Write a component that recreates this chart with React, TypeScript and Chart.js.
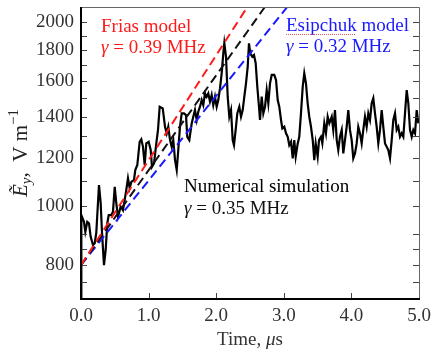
import React, { useEffect, useRef } from 'react';
import { Chart, registerables } from 'chart.js';

Chart.register(...registerables);

// Numerical simulation trace (time in µs, field in V/m)
const simTime = [
  0.0, 0.005, 0.044, 0.064, 0.093, 0.118, 0.143, 0.178, 0.203, 0.226,
  0.266, 0.291, 0.311, 0.34, 0.365, 0.389, 0.41, 0.448, 0.473, 0.499,
  0.522, 0.547, 0.587, 0.621, 0.646, 0.67, 0.695, 0.72, 0.744, 0.784,
  0.803, 0.833, 0.868, 0.892, 0.917, 0.942, 0.966, 1.001, 1.031, 1.05,
  1.08, 1.114, 1.139, 1.164, 1.209, 1.243, 1.268, 1.291, 1.317, 1.342,
  1.365, 1.391, 1.416, 1.439, 1.464, 1.49, 1.524, 1.553, 1.572, 1.602,
  1.638, 1.661, 1.686, 1.712, 1.735, 1.76, 1.786, 1.809, 1.834, 1.859,
  1.883, 1.908, 1.933, 1.957, 1.982, 2.007, 2.031, 2.056, 2.081, 2.105,
  2.12, 2.145, 2.17, 2.194, 2.219, 2.244, 2.263, 2.288, 2.312, 2.342,
  2.367, 2.392, 2.416, 2.441, 2.466, 2.485, 2.504, 2.534, 2.559, 2.584,
  2.608, 2.633, 2.648, 2.673, 2.697, 2.722, 2.747, 2.771, 2.796, 2.821,
  2.859, 2.885, 2.91, 2.933, 2.959, 2.978, 3.007, 3.033, 3.058, 3.081,
  3.107, 3.132, 3.155, 3.176, 3.206, 3.229, 3.254, 3.28, 3.303, 3.328,
  3.353, 3.377, 3.402, 3.428, 3.451, 3.472, 3.501, 3.521, 3.55, 3.57,
  3.599, 3.624, 3.649, 3.673, 3.709, 3.732, 3.757, 3.783, 3.806, 3.831,
  3.857, 3.88, 3.905, 3.93, 3.954, 3.979, 4.004, 4.028, 4.053, 4.078,
  4.102, 4.127, 4.152, 4.176, 4.201, 4.226, 4.25, 4.275, 4.3, 4.324,
  4.349, 4.374, 4.398, 4.423, 4.448, 4.472, 4.497, 4.522, 4.546, 4.571,
  4.596, 4.62, 4.645, 4.67, 4.694, 4.719, 4.744, 4.768, 4.793, 4.818,
  4.842, 4.867, 4.892, 4.916, 4.941, 4.966, 4.99,
];
const simField = [
  705, 966, 942, 907, 942, 937, 890, 863, 869, 903,
  1082, 1011, 903, 800, 847, 937, 966, 966, 978, 1075,
  1011, 960, 997, 984, 1022, 1062, 1110, 1070, 1095, 1103,
  1145, 1167, 1274, 1286, 1250, 1167, 1266, 1274, 1235, 1159,
  1174, 1266, 1332, 1454, 1445, 1348, 1315, 1348, 1282, 1250,
  1282, 1189, 1145, 1235, 1348, 1418, 1418, 1409, 1298, 1282,
  1366, 1400, 1436, 1383, 1427, 1454, 1491, 1463, 1529, 1510,
  1529, 1482, 1520, 1463, 1510, 1454, 1491, 1558, 1649, 1778,
  1847, 1756, 1510, 1400, 1436, 1282, 1258, 1332, 1418, 1454,
  1400, 1436, 1510, 1588, 1691, 1847, 1778, 1756, 1767, 1713,
  1568, 1454, 1383, 1510, 1418, 1454, 1548, 1473, 1588, 1639,
  1639, 1608, 1491, 1454, 1383, 1340, 1348, 1315, 1298, 1258,
  1274, 1197, 1282, 1204, 1266, 1298, 1418, 1568, 1649, 1588,
  1473, 1400, 1348, 1282, 1189, 1266, 1204, 1282, 1298, 1266,
  1366, 1315, 1400, 1366, 1400, 1332, 1436, 1282, 1235, 1298,
  1332, 1219, 1282, 1348, 1436, 1332, 1282, 1197, 1219, 1266,
  1348, 1315, 1266, 1332, 1400, 1348, 1418, 1383, 1473, 1501,
  1418, 1348, 1266, 1332, 1436, 1348, 1266, 1250, 1235, 1197,
  1282, 1383, 1418, 1332, 1348, 1298, 1315, 1298, 1418, 1548,
  1473, 1332, 1298, 1332, 1315, 1436, 1366,
];

// Model growth lines (straight on the log axis), endpoints
const friasTime = [0, 2.46];
const friasField = [800, 2118];
const simFitTime = [0, 2.72];
const simFitField = [800, 2118];
const esipTime = [0, 3.05];
const esipField = [800, 2118];

const xTickValues = [0, 1, 2, 3, 4, 5];
const yTickValues = [750, 800, 850, 900, 1000, 1100, 1200, 1300, 1400, 1500, 1600, 1700, 1800, 1900, 2000];
const yLabelValues = [800, 1000, 1200, 1400, 1600, 1800, 2000];
const yMin = 704;
const yMax = 2118;

const SERIF = '"Liberation Serif", "Times New Roman", serif';

type Run = { t: string; size: number; italic?: boolean; dy?: number };

function drawRuns(ctx: CanvasRenderingContext2D, x: number, y: number, runs: Run[], color: string) {
  let cx = x;
  ctx.fillStyle = color;
  ctx.textBaseline = 'alphabetic';
  ctx.textAlign = 'left';
  for (const r of runs) {
    ctx.font = `${r.italic ? 'italic ' : ''}${r.size}px ${SERIF}`;
    ctx.fillText(r.t, cx, y + (r.dy || 0));
    cx += ctx.measureText(r.t).width;
  }
  return cx - x;
}

function runsWidth(ctx: CanvasRenderingContext2D, runs: Run[]) {
  let w = 0;
  for (const r of runs) {
    ctx.font = `${r.italic ? 'italic ' : ''}${r.size}px ${SERIF}`;
    w += ctx.measureText(r.t).width;
  }
  return w;
}

const decorPlugin = {
  id: 'decor',
  afterDraw(chart: any) {
    const { ctx, chartArea: a, scales } = chart;
    const xs = scales.x;
    const ys = scales.y;
    ctx.save();

    // inward tick marks
    ctx.strokeStyle = '#444';
    ctx.lineWidth = 1;
    ctx.beginPath();
    yTickValues.forEach((v) => {
      const py = Math.round(ys.getPixelForValue(v)) + 0.5;
      ctx.moveTo(a.left, py);
      ctx.lineTo(a.left + 6, py);
      ctx.moveTo(a.right, py);
      ctx.lineTo(a.right - 6, py);
    });
    xTickValues.forEach((v) => {
      const px = Math.round(xs.getPixelForValue(v)) + 0.5;
      ctx.moveTo(px, a.bottom);
      ctx.lineTo(px, a.bottom - 6);
    });
    ctx.stroke();

    // frame
    ctx.strokeStyle = '#666';
    ctx.lineWidth = 1;
    ctx.beginPath();
    ctx.moveTo(a.left, a.top + 0.5);
    ctx.lineTo(a.right + 0.5, a.top + 0.5);
    ctx.lineTo(a.right + 0.5, a.bottom);
    ctx.stroke();
    ctx.strokeStyle = '#000';
    ctx.lineWidth = 2;
    ctx.beginPath();
    ctx.moveTo(a.left, a.top);
    ctx.lineTo(a.left, a.bottom);
    ctx.lineTo(a.right + 1, a.bottom);
    ctx.stroke();

    // annotations
    const red = '#ff1a1a';
    const blue = '#1a1aff';
    drawRuns(ctx, 101, 32, [{ t: 'Frias model', size: 19 }], red);
    drawRuns(ctx, 101, 53, [{ t: 'γ', size: 19, italic: true }, { t: ' = 0.39 MHz', size: 19 }], red);
    drawRuns(ctx, 286, 31, [{ t: 'Esipchuk model', size: 19 }], blue);
    drawRuns(ctx, 286, 52, [{ t: 'γ', size: 19, italic: true }, { t: ' = 0.32 MHz', size: 19 }], blue);
    // spell-check squiggle under "Esipchuk"
    ctx.save();
    ctx.strokeStyle = 'rgba(230,60,60,0.85)';
    ctx.lineWidth = 1;
    ctx.setLineDash([1, 1]);
    ctx.beginPath();
    ctx.moveTo(286, 34.5);
    ctx.lineTo(356, 34.5);
    ctx.stroke();
    ctx.restore();
    drawRuns(ctx, 184, 192, [{ t: 'Numerical simulation', size: 19 }], '#000');
    drawRuns(ctx, 184, 214, [{ t: 'γ', size: 19, italic: true }, { t: ' = 0.35 MHz', size: 19 }], '#111');

    // x-axis title
    const xRuns: Run[] = [
      { t: 'Time, ', size: 19 },
      { t: 'μ', size: 19, italic: true },
      { t: 's', size: 19 },
    ];
    const xw = runsWidth(ctx, xRuns);
    drawRuns(ctx, (a.left + a.right) / 2 - xw / 2, 345, xRuns, '#333');

    // y-axis title (rotated)
    const yRuns: Run[] = [
      { t: 'Ẽ', size: 21, italic: true },
      { t: 'y', size: 15, italic: true, dy: 4 },
      { t: ',  V m', size: 21 },
      { t: '−1', size: 15, dy: -9 },
    ];
    const yw = runsWidth(ctx, yRuns);
    ctx.translate(27, (a.top + a.bottom) / 2 + yw / 2);
    ctx.rotate(-Math.PI / 2);
    drawRuns(ctx, 0, 0, yRuns, '#222');

    ctx.restore();
  },
};

export default function App() {
  const canvasRef = useRef<HTMLCanvasElement | null>(null);

  useEffect(() => {
    const canvas = canvasRef.current;
    if (!canvas) return;
    const toPts = (ts: number[], vs: number[]) => ts.map((t, i) => ({ x: t, y: vs[i] }));
    const chart = new Chart(canvas, {
      type: 'line',
      data: {
        datasets: [
          {
            data: toPts(friasTime, friasField),
            borderColor: '#ff1a1a',
            borderWidth: 2,
            borderDash: [9, 5],
            pointRadius: 0,
            order: 0,
          },
          {
            data: toPts(simFitTime, simFitField),
            borderColor: '#111',
            borderWidth: 2,
            borderDash: [9, 5],
            pointRadius: 0,
            order: 0,
          },
          {
            data: toPts(esipTime, esipField),
            borderColor: '#1a1aff',
            borderWidth: 2,
            borderDash: [9, 5],
            pointRadius: 0,
            order: 0,
          },
          {
            data: toPts(simTime, simField),
            borderColor: '#000',
            borderWidth: 2.2,
            pointRadius: 0,
            tension: 0,
            order: 1,
          },
        ],
      },
      options: {
        responsive: false,
        animation: false,
        events: [],
        layout: { padding: { top: 7, right: 17, left: 0, bottom: 0 } },
        plugins: {
          legend: { display: false },
          tooltip: { enabled: false },
          title: { display: false },
        },
        scales: {
          x: {
            type: 'linear',
            min: 0,
            max: 5,
            grid: { display: false, drawTicks: false },
            border: { display: false },
            afterBuildTicks: (scale: any) => {
              scale.ticks = xTickValues.map((v) => ({ value: v }));
            },
            afterFit: (scale: any) => {
              scale.height = 54;
              scale.paddingLeft = 0;
              scale.paddingRight = 0;
              scale.paddingTop = 0;
              scale.paddingBottom = 0;
            },
            ticks: {
              autoSkip: false,
              maxRotation: 0,
              padding: 6,
              color: '#333',
              font: { family: SERIF, size: 19 },
              callback: (v: any) => Number(v).toFixed(1),
            },
          },
          y: {
            type: 'logarithmic',
            min: yMin,
            max: yMax,
            grid: { display: false, drawTicks: false },
            border: { display: false },
            afterBuildTicks: (scale: any) => {
              scale.ticks = yTickValues.map((v) => ({ value: v }));
            },
            afterFit: (scale: any) => {
              scale.width = 81;
              scale.paddingLeft = 0;
              scale.paddingRight = 0;
              scale.paddingTop = 0;
              scale.paddingBottom = 0;
            },
            ticks: {
              autoSkip: false,
              padding: 7,
              color: '#333',
              font: { family: SERIF, size: 19 },
              callback: (v: any) => (yLabelValues.includes(Number(v)) ? String(v) : ''),
            },
          },
        },
      },
      plugins: [decorPlugin],
    });
    return () => chart.destroy();
  }, []);

  return (
    <div style={{ position: 'absolute', left: 0, top: 0, width: 436, height: 353, background: '#fff' }}>
      <canvas ref={canvasRef} width={436} height={353} style={{ display: 'block' }} />
    </div>
  );
}
